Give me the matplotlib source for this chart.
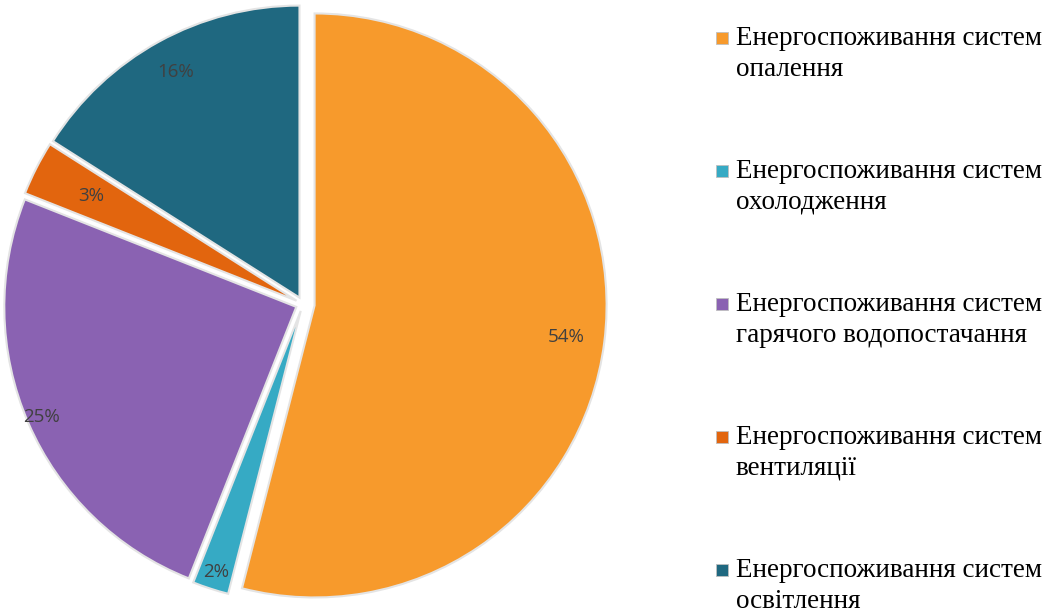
import matplotlib
matplotlib.use("Agg")
import matplotlib.pyplot as plt
import numpy as np

labels = ["Енергоспоживання систем\nопалення",
          "Енергоспоживання систем\nохолодження",
          "Енергоспоживання систем\nгарячого водопостачання",
          "Енергоспоживання систем\nвентиляції",
          "Енергоспоживання систем\nосвітлення"]
shares = [54, 2, 25, 3, 16]
colors = ["#F79A2C", "#36AAC4", "#8A62B2", "#E2650E", "#1F6880"]
explode = [0.04, 0.025, 0.025, 0.025, 0.025]
# distance of the percent labels from the centre, per slice
label_dist = [0.87, 0.94, 0.95, 0.79, 0.88]

W, H = 1050, 615
fig = plt.figure(figsize=(W / 100, H / 100), dpi=100)

# pie centre ~ (303, 304) px, radius ~ 292 px
r_px = 292
cx, cy = 303, 304
lim = 1.06
size = 2 * lim * r_px
ax = fig.add_axes([(cx - size / 2) / W, (H - cy - size / 2) / H, size / W, size / H])

wedges, _ = ax.pie(shares, colors=colors, explode=explode, startangle=90,
                   counterclock=False, radius=1.0,
                   wedgeprops=dict(edgecolor="#e4e4e4", linewidth=1.5))
ax.set_xlim(-lim, lim)
ax.set_ylim(-lim, lim)
ax.set_aspect("equal")
ax.axis("off")

for i, w in enumerate(wedges):
    mid = np.deg2rad((w.theta1 + w.theta2) / 2)
    ox, oy = w.center
    x = ox + label_dist[i] * np.cos(mid)
    y = oy + label_dist[i] * np.sin(mid)
    ax.text(x, y, "%d%%" % shares[i], ha="center", va="center",
            fontsize=13.5, color="#404040", family="Open Sans")

# legend drawn by hand to match the spacing
for i, lab in enumerate(labels):
    ymid = 38 + i * 133
    fy = 1 - ymid / H
    fig.patches.append(plt.Rectangle((716 / W, fy - 6 / H), 12 / W, 12 / H,
                                     transform=fig.transFigure, facecolor=colors[i],
                                     edgecolor="#bfbfbf", linewidth=0.6))
    fig.text(736 / W, fy + 12 / H, lab, ha="left", va="top", fontsize=19.5,
             family="Liberation Serif", color="black", linespacing=1.3)

fig.savefig("out.png", dpi=100)
